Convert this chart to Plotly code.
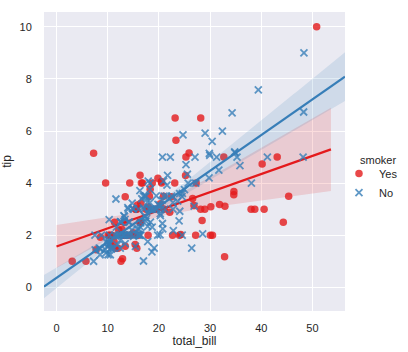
import numpy as np
import plotly.graph_objects as go

# tips dataset: total_bill, tip, smoker (Y/N)
rows = """16.99 1.01 N|10.34 1.66 N|21.01 3.5 N|23.68 3.31 N|24.59 3.61 N|25.29 4.71 N|8.77 2.0 N|26.88 3.12 N|15.04 1.96 N|14.78 3.23 N|10.27 1.71 N|35.26 5.0 N|15.42 1.57 N|18.43 3.0 N|14.83 3.02 N|21.58 3.92 N|10.33 1.67 N|16.29 3.71 N|16.97 3.5 N|20.65 3.35 N|17.92 4.08 N|20.29 2.75 N|15.77 2.23 N|39.42 7.58 N|19.82 3.18 N|17.81 2.34 N|13.37 2.0 N|12.69 2.0 N|21.7 4.3 N|19.65 3.0 N|9.55 1.45 N|18.35 2.5 N|15.06 3.0 N|20.69 2.45 N|17.78 3.27 N|24.06 3.6 N|16.31 2.0 N|16.93 3.07 N|18.69 2.31 N|31.27 5.0 N|16.04 2.24 N|17.46 2.54 N|13.94 3.06 N|9.68 1.32 N|30.4 5.6 N|18.29 3.0 N|22.23 5.0 N|32.4 6.0 N|28.55 2.05 N|18.04 3.0 N|12.54 2.5 N|10.29 2.6 N|34.81 5.2 N|9.94 1.56 N|25.56 4.34 N|19.49 3.51 N|38.01 3.0 Y|26.41 1.5 N|11.24 1.76 Y|48.27 6.73 N|20.29 3.21 Y|13.81 2.0 Y|11.02 1.98 Y|18.29 3.76 Y|17.59 2.64 N|20.08 3.15 N|16.45 2.47 N|3.07 1.0 Y|20.23 2.01 N|15.01 2.09 Y|12.02 1.97 N|17.07 3.0 N|26.86 3.14 Y|25.28 5.0 Y|14.73 2.2 N|10.51 1.25 N|17.92 3.08 Y|27.2 4.0 N|22.76 3.0 N|17.29 2.71 N|19.44 3.0 Y|16.66 3.4 N|10.07 1.83 N|32.68 5.0 Y|15.98 2.03 N|34.83 5.17 N|13.03 2.0 N|18.28 4.0 N|24.71 5.85 N|21.16 3.0 N|28.97 3.0 Y|22.49 3.5 N|5.75 1.0 Y|16.32 4.3 Y|22.75 3.25 N|40.17 4.73 Y|27.28 4.0 Y|12.03 1.5 Y|21.01 3.0 Y|12.46 1.5 N|11.35 2.5 Y|15.38 3.0 Y|44.3 2.5 Y|22.42 3.48 Y|20.92 4.08 N|15.36 1.64 Y|20.49 4.06 Y|25.21 4.29 Y|18.24 3.76 N|14.31 4.0 Y|14.0 3.0 N|7.25 1.0 N|38.07 4.0 N|23.95 2.55 N|25.71 4.0 N|17.31 3.5 N|29.93 5.07 N|10.65 1.5 N|12.43 1.8 N|24.08 2.92 N|11.69 2.31 N|13.42 1.68 N|14.26 2.5 N|15.95 2.0 N|12.48 2.52 N|29.8 4.2 N|8.52 1.48 N|14.52 2.0 N|11.38 2.0 N|22.82 2.18 N|19.08 1.5 N|20.27 2.83 N|11.17 1.5 N|12.26 2.0 N|18.26 3.25 N|8.51 1.25 N|10.33 2.0 N|14.15 2.0 N|16.0 2.0 Y|13.16 2.75 N|17.47 3.5 N|34.3 6.7 N|41.19 5.0 N|27.05 5.0 N|16.43 2.3 N|8.35 1.5 N|18.64 1.36 N|11.87 1.63 N|9.78 1.73 N|7.51 2.0 N|14.07 2.5 N|13.13 2.0 N|17.26 2.74 N|24.55 2.0 N|19.77 2.0 N|29.85 5.14 N|48.17 5.0 N|25.0 3.75 N|13.39 2.61 N|16.49 2.0 N|21.5 3.5 N|12.66 2.5 N|16.21 2.0 N|13.81 2.0 N|17.51 3.0 Y|24.52 3.48 N|20.76 2.24 N|31.71 4.5 N|10.59 1.61 Y|10.63 2.0 Y|50.81 10.0 Y|15.81 3.16 Y|7.25 5.15 Y|31.85 3.18 Y|16.82 4.0 Y|32.9 3.11 Y|17.89 2.0 Y|14.48 2.0 Y|9.6 4.0 Y|34.63 3.55 Y|34.65 3.68 Y|23.33 5.65 Y|45.35 3.5 Y|23.17 6.5 Y|40.55 3.0 Y|20.69 5.0 N|20.9 3.5 Y|30.46 2.0 Y|18.15 3.5 Y|23.1 4.0 Y|15.69 1.5 Y|19.81 4.19 Y|28.44 2.56 Y|15.48 2.02 Y|16.58 4.0 Y|7.56 1.44 N|10.34 2.0 Y|43.11 5.0 Y|13.0 2.0 Y|13.51 2.0 Y|18.71 4.0 Y|12.74 2.01 Y|13.0 2.0 Y|16.4 2.5 Y|20.53 4.0 Y|16.47 3.23 Y|26.59 3.41 Y|38.73 3.0 Y|24.27 2.03 Y|12.76 2.23 Y|30.06 2.0 Y|25.89 5.16 Y|48.33 9.0 N|13.27 2.5 Y|28.17 6.5 Y|12.9 1.1 Y|28.15 3.0 Y|11.59 1.5 Y|7.74 1.44 Y|30.14 3.09 Y|12.16 2.2 Y|13.42 3.48 Y|8.58 1.92 Y|15.98 3.0 N|13.42 1.58 Y|16.27 2.5 Y|10.09 2.0 Y|20.45 3.0 N|13.28 2.72 N|22.12 2.88 Y|24.01 2.0 Y|15.69 3.0 Y|11.61 3.39 N|10.77 1.47 N|15.53 3.0 Y|10.07 1.25 N|12.6 1.0 Y|32.83 1.17 Y|35.83 4.67 N|29.03 5.92 N|27.18 2.0 Y|22.67 2.0 Y|17.82 1.75 N|18.78 3.0 N"""

total_bill = []
tip = []
smoker = []
for r in rows.split("|"):
    a, b, c = r.split()
    total_bill.append(float(a))
    tip.append(float(b))
    smoker.append("Yes" if c == "Y" else "No")

total_bill = np.array(total_bill)
tip = np.array(tip)
smoker = np.array(smoker)

groups = ["Yes", "No"]
colors = {"Yes": "#e41a1c", "No": "#377eb8"}
fills = {"Yes": "rgba(228,26,28,0.15)", "No": "rgba(55,126,184,0.15)"}
xrange_ = [-2.44, 56.35]
yrange_ = [-0.91, 10.57]
# extent of each fitted line (x-limits at the time each fit was drawn)
fit_extent = {"Yes": [0.0, 53.6], "No": [-2.44, 56.35]}

fig = go.Figure()
for g in groups:
    m = smoker == g
    x = total_bill[m]
    y = tip[m]
    if g == "Yes":
        marker = dict(symbol="circle", size=7.5, color=colors[g], opacity=0.8, line=dict(width=0))
    else:
        marker = dict(symbol="x-thin-open", size=7, color=colors[g], opacity=0.8,
                      line=dict(width=1.8, color=colors[g]))
    fig.add_trace(go.Scatter(x=x, y=y, mode="markers", name=g, marker=marker))
    n = len(x)
    X = np.column_stack([np.ones(n), x])
    XtX_inv = np.linalg.inv(X.T @ X)
    beta = XtX_inv @ X.T @ y
    resid = y - X @ beta
    h = np.sum((X @ XtX_inv) * X, axis=1)
    w = (resid / (1 - h)) ** 2
    cov = XtX_inv @ (X.T * w) @ X @ XtX_inv  # HC3 robust covariance
    grid = np.linspace(fit_extent[g][0], fit_extent[g][1], 100)
    G = np.column_stack([np.ones_like(grid), grid])
    yhat = G @ beta
    se = np.sqrt(np.sum((G @ cov) * G, axis=1))
    lo = yhat - 1.96 * se
    hi = yhat + 1.96 * se
    fig.add_trace(go.Scatter(x=np.concatenate([grid, grid[::-1]]),
                             y=np.concatenate([hi, lo[::-1]]),
                             fill="toself", fillcolor=fills[g], line=dict(width=0),
                             mode="lines", hoverinfo="skip", showlegend=False))
    fig.add_trace(go.Scatter(x=grid, y=yhat, mode="lines",
                             line=dict(color=colors[g], width=2.2), showlegend=False))

axis_common = dict(showgrid=True, gridcolor="white", gridwidth=1, zeroline=False,
                   showline=False, ticks="outside", tickcolor="rgba(0,0,0,0)",
                   automargin=False,
                   tickfont=dict(size=11, color="#262626"),
                   title_font=dict(size=12, color="#262626"))
fig.update_xaxes(range=xrange_, tickvals=[0, 10, 20, 30, 40, 50], title_text="total_bill",
                 ticklen=7, title_standoff=3, **axis_common)
fig.update_yaxes(range=yrange_, tickvals=[0, 2, 4, 6, 8, 10], title_text="tip",
                 ticklen=9, title_standoff=7, **axis_common)
fig.add_annotation(text="smoker", xref="paper", yref="paper", x=1.043, y=0.505,
                   xanchor="left", yanchor="middle", showarrow=False,
                   font=dict(size=11, color="#262626"))
fig.update_layout(
    width=408, height=352,
    margin=dict(l=44, r=63, t=12, b=41, autoexpand=False),
    plot_bgcolor="#EAEAF2", paper_bgcolor="white",
    font=dict(family="Liberation Sans, Arial, sans-serif", size=11, color="#262626"),
    legend=dict(x=0.98, xanchor="left",
                y=0.428, yanchor="middle", bgcolor="rgba(0,0,0,0)", borderwidth=0,
                font=dict(size=11), itemwidth=30, tracegroupgap=0),
    showlegend=True,
)
fig.write_html("out.html")
